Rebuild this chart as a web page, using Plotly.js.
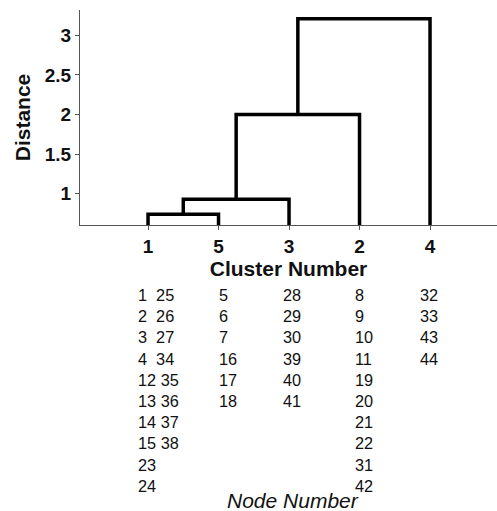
<!DOCTYPE html>
<html>
<head>
<meta charset="utf-8">
<script src="https://cdn.plot.ly/plotly-3.0.1.min.js"></script>
<style>html,body{margin:0;padding:0;background:#fff;}#chart{width:497px;height:511px;}</style>
</head>
<body>
<div id="chart"></div>
<script>
// Leaf order along the x axis (cluster numbers)
const clusterOrder = ["1", "5", "3", "2", "4"];
// Successive merges: left member, right member, merge distance
const mergeLeft = ["1", "M1", "M2", "M3"];
const mergeRight = ["5", "3", "2", "4"];
const mergeDistance = [0.74, 0.93, 2.0, 3.21];
// Y tick values
const yTickVals = [1, 1.5, 2, 2.5, 3];
const yTickText = ["1", "1.5", "2", "2.5", "3"];
// Node numbers listed under each cluster
const nodesCluster1 = ["1\u00a0\u00a025", "2\u00a0\u00a026", "3\u00a0\u00a027", "4\u00a0\u00a034", "12 35", "13 36", "14 37", "15 38", "23", "24"];
const nodesCluster5 = ["5", "6", "7", "16", "17", "18"];
const nodesCluster3 = ["28", "29", "30", "39", "40", "41"];
const nodesCluster2 = ["8", "9", "10", "11", "19", "20", "21", "22", "31", "42"];
const nodesCluster4 = ["32", "33", "43", "44"];
const nodeLists = [nodesCluster1, nodesCluster5, nodesCluster3, nodesCluster2, nodesCluster4];

const FONT = "Liberation Sans, Arial, Helvetica, sans-serif";

// Build dendrogram path from merges
const pos = {}, hgt = {};
clusterOrder.forEach((c, i) => { pos[c] = i + 1; hgt[c] = 0; });
const xs = [], ys = [];
mergeDistance.forEach((h, i) => {
  const a = mergeLeft[i], b = mergeRight[i];
  xs.push(pos[a], pos[a], pos[b], pos[b], null);
  ys.push(hgt[a], h, h, hgt[b], null);
  const id = "M" + (i + 1);
  pos[id] = (pos[a] + pos[b]) / 2;
  hgt[id] = h;
});

const trace = {
  x: xs, y: ys, type: "scatter", mode: "lines",
  line: { color: "#000", width: 3.5, shape: "linear" },
  hoverinfo: "skip", showlegend: false
};

// layout tweaks for node list columns
const colShift = [-12, -2, -8, -7, -12];
const annotations = nodeLists.map((list, i) => ({
  xref: "x", yref: "paper",
  x: i + 1, xshift: colShift[i],
  y: -0.274, xanchor: "left", yanchor: "top",
  text: list.join("<br>"), align: "left", showarrow: false,
  font: { family: FONT, size: 16.3, color: "#111" }
}));
annotations.push({
  xref: "paper", yref: "paper", x: 0.51, y: -1.345,
  xanchor: "center", yanchor: "bottom",
  text: "Node Number", showarrow: false,
  font: { family: FONT, size: 21, style: "italic", color: "#111" }
});

const layout = {
  width: 497, height: 511,
  margin: { l: 80, r: 0, t: 10, b: 286, pad: 0 },
  paper_bgcolor: "#fff", plot_bgcolor: "#fff",
  font: { family: FONT, color: "#111" },
  showlegend: false,
  xaxis: {
    range: [0.035, 5.95],
    tickmode: "array", tickvals: clusterOrder.map((c, i) => i + 1), ticktext: clusterOrder,
    ticks: "outside", ticklen: 4, tickcolor: "#555", tickwidth: 1,
    showline: true, linecolor: "#555", linewidth: 1,
    showgrid: false, zeroline: false,
    tickfont: { family: FONT, size: 19, weight: "bold", color: "#111" },
    title: { text: "Cluster Number", font: { family: FONT, size: 21, weight: "bold", color: "#111" }, standoff: 4 }
  },
  yaxis: {
    range: [0.605, 3.32],
    tickmode: "array", tickvals: yTickVals, ticktext: yTickText,
    ticks: "outside", ticklen: 4, tickcolor: "#555", tickwidth: 1,
    showline: true, linecolor: "#555", linewidth: 1,
    showgrid: false, zeroline: false,
    tickfont: { family: FONT, size: 19, weight: "bold", color: "#111" },
    title: { text: "Distance", font: { family: FONT, size: 21, weight: "bold", color: "#111" }, standoff: 8 }
  },
  annotations: annotations
};

Plotly.newPlot("chart", [trace], layout, { displayModeBar: false, staticPlot: true });
</script>
</body>
</html>
